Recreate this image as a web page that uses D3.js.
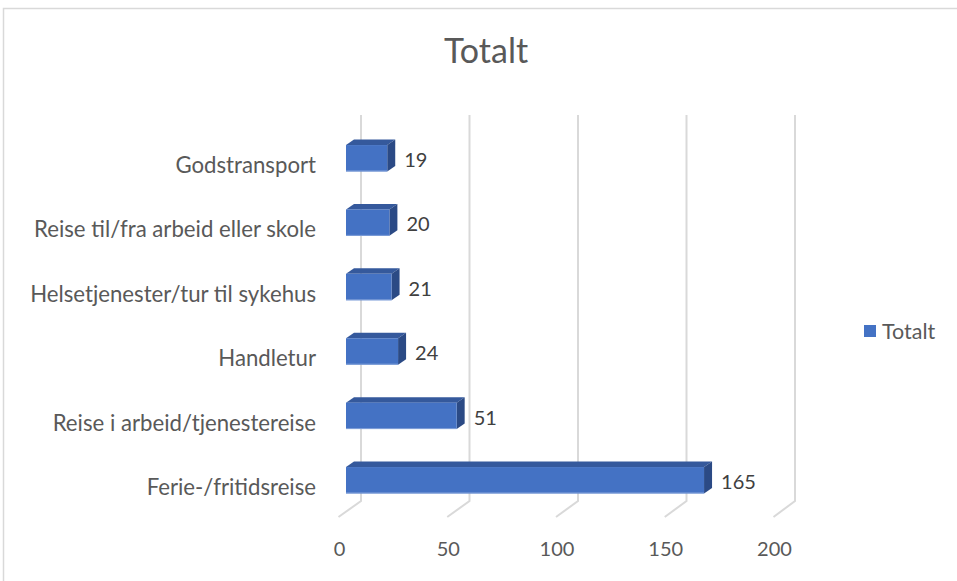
<!DOCTYPE html>
<html>
<head>
<meta charset="utf-8">
<script src="https://cdn.jsdelivr.net/npm/d3@7"></script>
<style>
  html, body { margin: 0; padding: 0; background: #fff; }
  svg { display: block; font-family: Lato, "Open Sans", sans-serif; }
</style>
</head>
<body>
<svg id="chart" width="957" height="581"></svg>
<script>
// ---- data ----
const categories = [
  "Godstransport",
  "Reise til/fra arbeid eller skole",
  "Helsetjenester/tur til sykehus",
  "Handletur",
  "Reise i arbeid/tjenestereise",
  "Ferie-/fritidsreise"
];
const values = [19, 20, 21, 24, 51, 165];
const tickValues = [0, 50, 100, 150, 200];
const seriesName = "Totalt";
const chartTitle = "Totalt";

// ---- layout ----
const svg = d3.select("#chart");
const textColor = "#595959";
const gridColor = "#d9d9d9";

// border of chart area
svg.append("path")
  .attr("d", "M3.5,600 L3.5,8.5 L1000,8.5")
  .attr("fill", "none").attr("stroke", gridColor).attr("stroke-width", 1.5);

// title
svg.append("text")
  .attr("x", 486).attr("y", 63)
  .attr("text-anchor", "middle")
  .attr("fill", textColor)
  .attr("font-size", 34)
  .text(chartTitle);

// scales
const xFront = d3.scaleLinear().domain([0, 200]).range([346, 780]);   // bar front plane
const xBack  = d3.scaleLinear().domain([0, 200]).range([361, 795]);   // back wall
const xFloor = d3.scaleLinear().domain([0, 200]).range([338.5, 773.5]); // front of floor
const y = d3.scaleBand().domain(categories)
  .range([126.05, 512.45]).paddingInner(0.59).paddingOuter(0.295);

const gridTop = 115, gridBottom = 501, floorFrontY = 517;
const depthDx = 8, depthDy = 5.5;

// gridlines on back wall + floor lines
const grid = svg.append("g");
tickValues.forEach(t => {
  grid.append("path")
    .attr("d", `M${xBack(t)},${gridTop} L${xBack(t)},${gridBottom} L${xFloor(t)},${floorFrontY}`)
    .attr("fill", "none").attr("stroke", gridColor).attr("stroke-width", 2);
});

// axis tick labels
svg.append("g").selectAll("text").data(tickValues).join("text")
  .attr("x", d => xFloor(d) + 1).attr("y", 556)
  .attr("text-anchor", "middle")
  .attr("fill", textColor).attr("font-size", 20)
  .text(d => d);

// category labels
svg.append("g").selectAll("text").data(categories).join("text")
  .attr("x", 316).attr("y", d => y(d) + 28)
  .attr("text-anchor", "end")
  .attr("fill", textColor).attr("font-size", 22.2)
  .text(d => d);

// bars (3D)
const bars = svg.append("g").selectAll("g").data(values).join("g");
bars.each(function(v, i) {
  const g = d3.select(this);
  const x0 = xFront(0), x1 = xFront(v);
  const y0 = y(categories[i]), h = y.bandwidth();
  // top face
  g.append("path")
    .attr("d", `M${x0},${y0} L${x1},${y0} L${x1 + depthDx},${y0 - depthDy} L${x0 + depthDx},${y0 - depthDy} Z`)
    .attr("fill", "#35599c");
  // side face
  g.append("path")
    .attr("d", `M${x1},${y0} L${x1 + depthDx},${y0 - depthDy} L${x1 + depthDx},${y0 + h - depthDy} L${x1},${y0 + h} Z`)
    .attr("fill", "#2b4a85");
  // front face
  g.append("rect")
    .attr("x", x0).attr("y", y0).attr("width", x1 - x0).attr("height", h)
    .attr("fill", "#4472c4");
  g.append("line")
    .attr("x1", x0).attr("x2", x1).attr("y1", y0 + h - 0.5).attr("y2", y0 + h - 0.5)
    .attr("stroke", "#7f9fd9").attr("stroke-width", 1);
});

// data labels
svg.append("g").selectAll("text").data(values).join("text")
  .attr("x", d => xFront(d) + 17)
  .attr("y", (d, i) => y(categories[i]) + 22)
  .attr("fill", "#404040").attr("font-size", 20)
  .text(d => d);

// legend
svg.append("rect").attr("x", 864).attr("y", 325).attr("width", 12).attr("height", 12)
  .attr("fill", "#4472c4");
svg.append("text").attr("x", 882).attr("y", 339)
  .attr("fill", textColor).attr("font-size", 21.5)
  .text(seriesName);
</script>
</body>
</html>
